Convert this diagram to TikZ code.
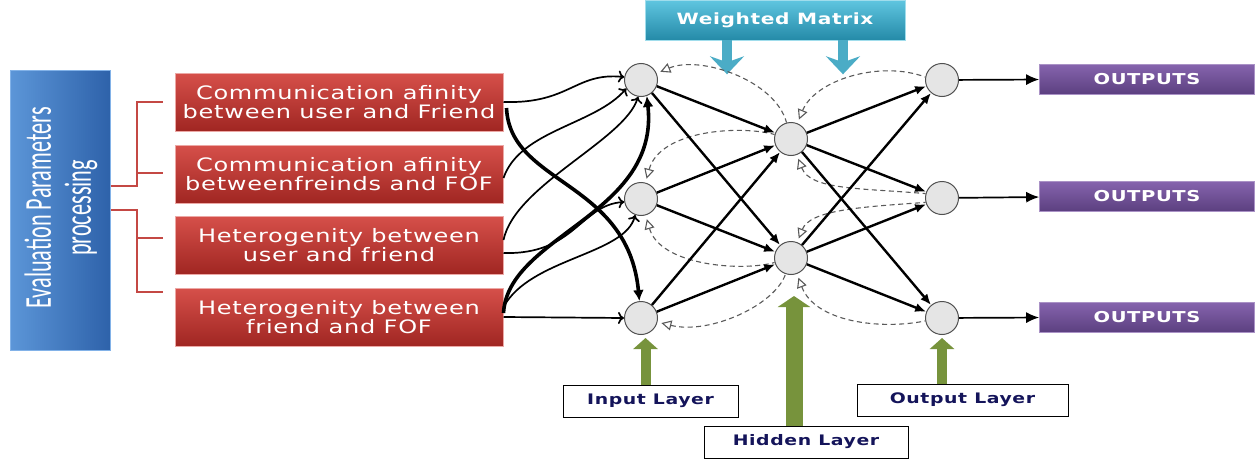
\documentclass[tikz,border=0pt]{standalone}
\usepackage{fontspec}
\usetikzlibrary{arrows.meta,calc}
\newfontfamily\boxfont[FakeStretch=1.3,LetterSpace=4]{DejaVu Sans}
\newfontfamily\lblfont[FakeStretch=1.3,LetterSpace=4]{DejaVu Sans Bold}
\newfontfamily\evalfont[FakeStretch=0.585]{Carlito}
\definecolor{redtop}{RGB}{214,80,74}
\definecolor{redbot}{RGB}{160,38,34}
\definecolor{redrim}{RGB}{236,168,165}
\definecolor{redline}{RGB}{196,72,68}
\definecolor{evall}{RGB}{92,150,216}
\definecolor{evalr}{RGB}{46,98,170}
\definecolor{evalrim}{RGB}{130,178,232}
\definecolor{wmtop}{RGB}{96,198,224}
\definecolor{wmbot}{RGB}{36,138,168}
\definecolor{wmarrow}{RGB}{75,172,198}
\definecolor{purtop}{RGB}{134,100,174}
\definecolor{purbot}{RGB}{92,64,128}
\definecolor{olivegreen}{RGB}{119,147,60}
\definecolor{navytext}{RGB}{20,20,90}
\definecolor{neuronfill}{RGB}{229,229,229}
\definecolor{neuronrim}{RGB}{80,80,80}
\definecolor{dashgray}{RGB}{90,90,90}
\tikzset{
  redbox/.style={draw=redrim, line width=1pt, top color=redtop, bottom color=redbot,
    minimum width=328pt, minimum height=58pt, align=center, text=white, inner sep=0pt,
    font=\boxfont\fontsize{18.5}{19}\selectfont},
  outbox/.style={draw=purtop!70!white, line width=0.6pt, top color=purtop, bottom color=purbot,
    minimum width=215pt, minimum height=30pt, text=white, inner sep=0pt,
    font=\lblfont\fontsize{15}{17}\selectfont},
  lblbox/.style={draw=black, line width=1pt, fill=white, text=navytext, inner sep=0pt,
    minimum height=32pt, font=\lblfont\fontsize{14.5}{17}\selectfont},
  neuron/.style={circle, draw=neuronrim, line width=1pt, fill=neuronfill,
    minimum size=33pt, inner sep=0pt},
  wire/.style={line width=2.4pt, -{Latex[length=11pt,width=9pt]}},
  outwire/.style={line width=1.7pt, -{Latex[length=13pt,width=11pt]}},
  thinwire/.style={line width=1.7pt, -{To[length=6pt,width=12pt]}},
  thickwire/.style={line width=3.6pt, -{Latex[length=11pt,width=11pt]}},
  backarc/.style={draw=dashgray, line width=1.1pt, dash pattern=on 5pt off 3.5pt,
    {Triangle[open,length=10pt,width=10pt,fill=white]}-, shorten <=4pt},
  bracketline/.style={draw=redline, line width=2.5pt},
  garrow/.style={draw=olivegreen, line width=10pt, -{Triangle[length=11pt,width=24pt]}},
  barrow/.style={draw=wmarrow, line width=10pt, -{Stealth[length=18pt,width=34pt,inset=6pt]}}
}
\begin{document}
\begin{tikzpicture}[x=1pt,y=-1pt]
\useasboundingbox (0,0) rectangle (1258,463);

% evaluation box
\node[draw=evalrim, line width=1pt, left color=evall, right color=evalr,
      minimum width=100pt, minimum height=280pt, inner sep=0pt] (eval) at (60,210) {};
\node[rotate=90, text=white, align=center, inner sep=0pt,
      font=\evalfont\fontsize{38}{40}\selectfont] (evaltxt) at (61,208)
      {Evaluation Parameters\\processing};

% brackets
\draw[bracketline] ($(eval.east)+(0,-24)$) -| (137,102) -- (163,102);
\draw[bracketline] (137,173) -- (163,173);
\draw[bracketline] (eval.east) -| (137,292) -- (163,292);
\draw[bracketline] (137,238) -- (163,238);

% red parameter boxes
\node[redbox] (b1) at (339,102) {Communication afinity\\between user and Friend};
\node[redbox] (b2) at (339,174) {Communication afinity\\betweenfreinds and FOF};
\node[redbox] (b3) at (339,245) {Heterogenity between\\user and friend};
\node[redbox] (b4) at (339,317) {Heterogenity between\\friend and FOF};

% weighted matrix
\node[draw=wmtop!60!white, line width=0.6pt, top color=wmtop, bottom color=wmbot,
      minimum width=260pt, minimum height=40pt, text=white, inner sep=0pt,
      font=\lblfont\fontsize{15.5}{17}\selectfont] (wm) at (775,20) {Weighted Matrix};
\draw[barrow] ($(wm.south)+(-48,0)$) -- ++(0,34);
\draw[barrow] ($(wm.south)+(68,0)$) -- ++(0,34);

% neurons
\node[neuron] (I1) at (641,80) {};
\node[neuron] (I2) at (641,199) {};
\node[neuron] (I3) at (641,318) {};
\node[neuron] (H1) at (791,139) {};
\node[neuron] (H2) at (791,258) {};
\node[neuron] (O1) at (942,80) {};
\node[neuron] (O2) at (942,198) {};
\node[neuron] (O3) at (942,318) {};

% output boxes
\node[outbox] (out1) at (1147,79) {OUTPUTS};
\node[outbox] (out2) at (1147,196) {OUTPUTS};
\node[outbox] (out3) at (1147,317) {OUTPUTS};

% dashed back-propagation arcs
\draw[backarc] (I1) .. controls (700,55) and (775,80) .. (H1);
\draw[backarc] (I2) .. controls (660,130) and (740,125) .. (H1);
\draw[backarc] (I2) .. controls (660,265) and (740,272) .. (H2);
\draw[backarc] (I3) .. controls (710,335) and (775,305) .. (H2);
\draw[backarc] (H1) .. controls (815,80) and (880,60) .. (O1.170);
\draw[backarc] (H1) .. controls (810,190) and (860,188) .. (O2.165);
\draw[backarc] (H2) .. controls (810,210) and (860,207) .. (O2.195);
\draw[backarc] (H2) .. controls (815,322) and (880,330) .. (O3.190);

% input -> hidden
\foreach \i in {I1,I2,I3}{
  \draw[wire] (\i) -- (H1);
  \draw[wire] (\i) -- (H2);
}
% hidden -> output
\foreach \h in {H1,H2}{
  \draw[wire] (\h) -- (O1);
  \draw[wire] (\h) -- (O2);
  \draw[wire] (\h) -- (O3);
}
% outputs
\draw[outwire] (O1) -- (out1);
\draw[outwire] (O2) -- (out2);
\draw[outwire] (O3) -- (out3);

% parameters -> input neurons
\draw[thinwire] (b1.east) .. controls (570,104) and (575,72) .. (I1.170);
\draw[thickwire] ($(b1.east)+(3,6)$) .. controls (510,185) and (628,180) .. (I3);
\draw[thinwire] ($(b2.east)+(0,4)$) .. controls (520,130) and (595,125) .. (I1.-150);
\draw[thinwire] ($(b3.east)+(0,-5)$) .. controls (515,185) and (625,140) .. (I1.-100);
\draw[thickwire] ($(b4.east)+(0,-4)$) .. controls (508,235) and (660,215) .. (I1.-70);
\draw[thinwire] ($(b3.east)+(0,8)$) .. controls (575,255) and (580,205) .. (I2.190);
\draw[thinwire] ($(b4.east)+(0,-10)$) .. controls (530,258) and (625,255) .. (I2.-110);
\draw[thinwire] (b4.east) -- (I3.west);

% layer labels
\node[lblbox, minimum width=175pt] (inlbl) at (650.5,401) {Input Layer};
\node[lblbox, minimum width=204pt] (hidlbl) at (806,442) {Hidden Layer};
\node[lblbox, minimum width=211pt] (outlbl) at (962.5,400) {Output Layer};
\draw[garrow] ($(inlbl.north)+(-5,0)$) -- ($(I3.south)+(4.5,3)$);
\draw[garrow, line width=17pt, -{Triangle[length=11pt,width=32pt]}]
  ($(hidlbl.north)+(-12,0)$) -- ($(H2.south)+(3,21)$);
\draw[garrow] ($(outlbl.north)+(-20.5,0)$) -- ($(O3.south)+(0,3)$);
\end{tikzpicture}
\end{document}
